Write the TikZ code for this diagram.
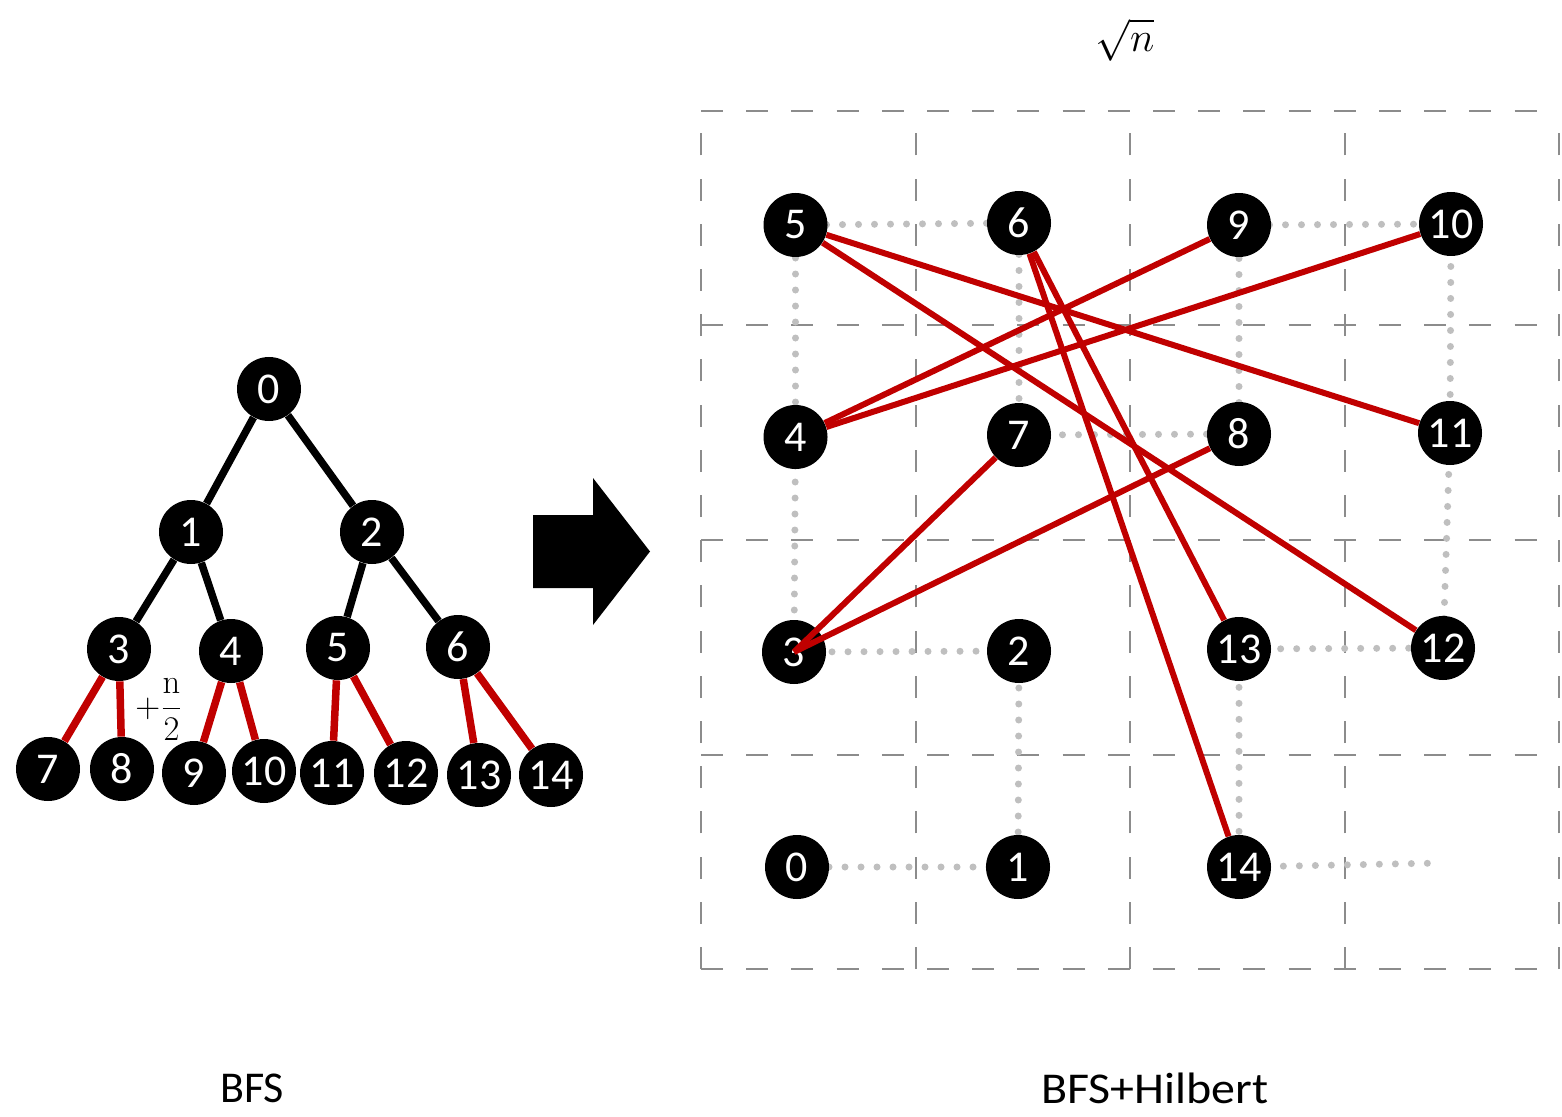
\documentclass[tikz,border=0pt]{standalone}
\usepackage[no-math]{fontspec}
\setmainfont{Carlito}
\definecolor{edgered}{RGB}{192,0,0}
\definecolor{gridgray}{RGB}{140,140,140}
\definecolor{curvegray}{RGB}{191,191,191}
\pgfdeclarelayer{bg}
\pgfsetlayers{bg,main}
\begin{document}
\begin{tikzpicture}[x=0.5pt,y=-0.5pt,
  vertex/.style={circle, fill=black, minimum size=32pt, inner sep=0pt,
    text=white, font=\fontsize{22}{22}\selectfont},
  treeedge/.style={line width=3.75pt, black},
  jump/.style={line width=3.75pt, edgered},
  hjump/.style={line width=3pt, edgered},
  cellline/.style={gridgray, line width=1pt, dash pattern=on 11pt off 11.6pt},
  curve/.style={curvegray, line width=3.5pt, line cap=round, dash pattern=on 0pt off 8pt},
  caption/.style={font=\fontsize{22}{26}\selectfont},
]
\useasboundingbox (0,0) rectangle (1562,1117);

% ---------- BFS tree ----------
\node[vertex] (t0)  at (269,389) {0};
\node[vertex] (t1)  at (191,532) {1};
\node[vertex] (t2)  at (372,532) {2};
\node[vertex] (t3)  at (119,649) {3};
\node[vertex] (t4)  at (231,651) {4};
\node[vertex] (t5)  at (338,648) {5};
\node[vertex] (t6)  at (458,647) {6};
\node[vertex] (t7)  at (48,769)  {7};
\node[vertex] (t8)  at (122,769) {8};
\node[vertex] (t9)  at (194,773) {9};
\node[vertex] (t10) at (264,771) {10};
\node[vertex] (t11) at (332,773) {11};
\node[vertex] (t12) at (406,773) {12};
\node[vertex] (t13) at (479,775) {13};
\node[vertex] (t14) at (551,775) {14};

\draw[treeedge] (t0) -- (t1);
\draw[treeedge] (t0) -- (t2);
\draw[treeedge] (t1) -- (t3);
\draw[treeedge] (t1) -- (t4);
\draw[treeedge] (t2) -- (t5);
\draw[treeedge] (t2) -- (t6);
\draw[jump] (t3) -- (t7);
\draw[jump] (t3) -- (t8);
\draw[jump] (t4) -- (t9);
\draw[jump] (t4) -- (t10);
\draw[jump] (t5) -- (t11);
\draw[jump] (t5) -- (t12);
\draw[jump] (t6) -- (t13);
\draw[jump] (t6) -- (t14);

\node[font=\fontsize{17}{19}\selectfont, inner sep=0pt] (offset) at (159,710)
  {$\displaystyle+\frac{\mathrm{n}}{2}$};

% ---------- block arrow ----------
\fill[black] (533,515) -- (593,515) -- (593,478) -- (650,551.5)
  -- (593,625) -- (593,588) -- (533,588) -- cycle;

% ---------- Hilbert layout ----------
\node[vertex] (h0)  at (797,867)  {0};
\node[vertex] (h1)  at (1018,867) {1};
\node[vertex] (h2)  at (1019,651) {2};
\node[vertex] (h3)  at (794,652)  {3};
\node[vertex] (h4)  at (795.5,437) {4};
\node[vertex] (h5)  at (795.5,225) {5};
\node[vertex] (h6)  at (1019,223) {6};
\node[vertex] (h7)  at (1019,435) {7};
\node[vertex] (h8)  at (1239,434) {8};
\node[vertex] (h9)  at (1239,225) {9};
\node[vertex] (h10) at (1451,224) {10};
\node[vertex] (h11) at (1450,433) {11};
\node[vertex] (h12) at (1443,648) {12};
\node[vertex] (h13) at (1239,649) {13};
\node[vertex] (h14) at (1239,867) {14};
\coordinate (hend) at (1441,863);

\begin{pgfonlayer}{bg}
  \foreach \y in {111,325.5,540,754.5,969}
    \draw[cellline] (701,\y) -- (1559,\y);
  \foreach \x in {701,915.5,1130,1344.5,1559}
    \draw[cellline] (\x,969) -- (\x,111);
  \draw[curve] (h0.center) -- (h1.center) -- (h2.center) -- (h3.center)
    -- (h4.center) -- (h5.center) -- (h6.center) -- (h7.center)
    -- (h8.center) -- (h9.center) -- (h10.center) -- (h11.center)
    -- (h12.center) -- (h13.center) -- (h14.center) -- (hend);
\end{pgfonlayer}

\draw[hjump] (h3.center) -- (h7);
\draw[hjump] (h3.center) -- (h8);
\draw[hjump] (h4) -- (h9);
\draw[hjump] (h4) -- (h10);
\draw[hjump] (h5) -- (h11);
\draw[hjump] (h5) -- (h12);
\draw[hjump] (h6) -- (h13);
\draw[hjump] (h6) -- (h14);

\node[font=\fontsize{22}{26}\selectfont, inner sep=0pt] (side) at (1125,40) {$\sqrt{n}$};

% ---------- captions ----------
\node[caption] (cap1) at (252,1088) {BFS};
\node[caption] (cap2) at (1155,1088) {\scalebox{1.09}[1]{BFS+Hilbert}};
\end{tikzpicture}
\end{document}
